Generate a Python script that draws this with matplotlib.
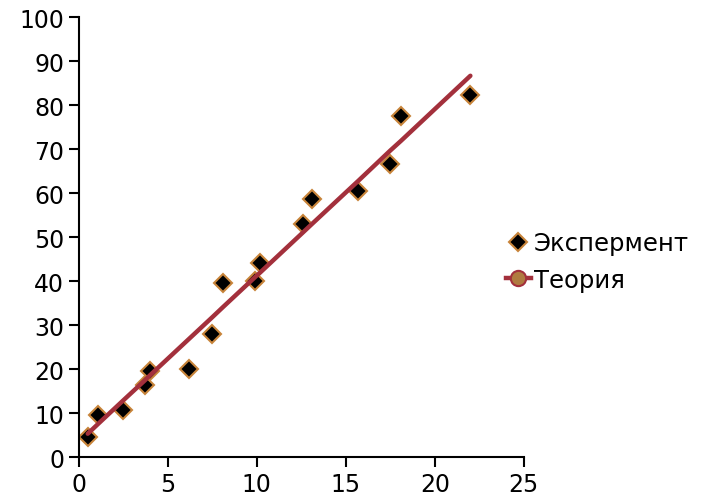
import matplotlib.pyplot as plt
from matplotlib.lines import Line2D

x_exp = [0.5, 1.1, 2.5, 3.7, 4.0, 6.2, 7.5, 8.1, 9.9, 10.2, 12.6, 13.1, 15.7, 17.5, 18.1, 22.0]
y_exp = [4.5, 9.5, 10.8, 16.4, 19.5, 20.1, 28.0, 39.5, 40.1, 44.2, 53.0, 58.6, 60.5, 66.6, 77.6, 82.3]
y_theory = [5.3, 7.6, 12.9, 17.4, 18.6, 26.9, 31.8, 34.1, 40.9, 42.0, 51.1, 53.0, 62.8, 69.7, 71.9, 86.7]

labels = ['Экспермент', 'Теория']
line_color = '#A3303C'

fig = plt.figure(figsize=(7.04, 5.02), dpi=100)
ax = fig.add_axes([0.112, 0.0876, 0.632, 0.876])

ax.plot(x_exp, y_theory, '-', color=line_color, linewidth=3.2, solid_capstyle='round', zorder=3)
ax.plot(x_exp, y_exp, 'D', color='black', markersize=9.5, markeredgecolor='#C8843A',
        markeredgewidth=1.5, linestyle='none', zorder=2)

ax.set_xlim(0, 25)
ax.set_ylim(0, 100)
ax.set_xticks(range(0, 26, 5))
ax.set_yticks(range(0, 101, 10))
for s in ['top', 'right']:
    ax.spines[s].set_visible(False)
for s in ['left', 'bottom']:
    ax.spines[s].set_linewidth(1.5)
ax.tick_params(direction='out', length=7, width=1.5, labelsize=17, colors='black')
ax.tick_params(axis='y', pad=3.5)
ax.tick_params(axis='x', pad=3.5)

handles = [
    Line2D([], [], marker='D', color='black', markersize=9.5, markeredgecolor='#C8843A',
           markeredgewidth=1.5, linestyle='none'),
    Line2D([], [], marker='o', color=line_color, linewidth=3.2, markersize=11,
           markerfacecolor='#B07A40', markeredgecolor=line_color, markeredgewidth=1.5),
]
fig.legend(handles, labels, loc='center left',
           bbox_to_anchor=(0.688, 0.477), frameon=False, fontsize=17.5,
           handlelength=1.0, handletextpad=0.15, labelspacing=0.5)

fig.savefig('out.png', dpi=100)
